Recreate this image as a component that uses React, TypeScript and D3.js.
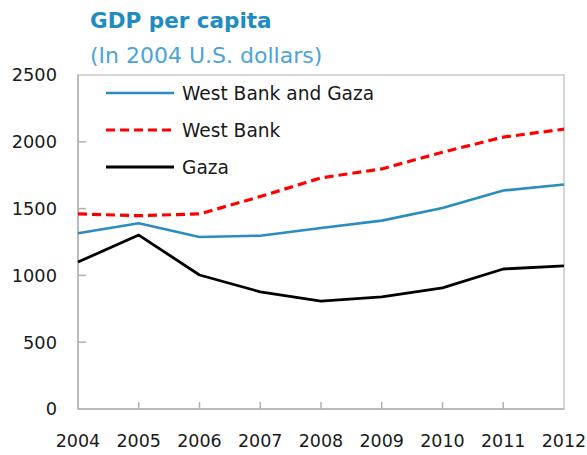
import React from "react";
import * as d3 from "d3";

const width = 587;
const height = 455;
const margin = { top: 75, right: 23, bottom: 46, left: 78 };

const years = [2004, 2005, 2006, 2007, 2008, 2009, 2010, 2011, 2012];
const yTicks = [0, 500, 1000, 1500, 2000, 2500];

const westBankAndGaza = [1315, 1390, 1287, 1297, 1355, 1410, 1505, 1635, 1680];
const westBank = [1460, 1447, 1460, 1590, 1730, 1797, 1922, 2035, 2095];
const gaza = [1100, 1302, 1003, 877, 808, 840, 907, 1048, 1072];

const seriesNames = ["West Bank and Gaza", "West Bank", "Gaza"];
const seriesColors = ["#2b8cbf", "#ff0000", "#000000"];
const seriesDash = [null, "9,5", null];
const seriesWidth = [2.6, 3.2, 2.8];

const font = "'DejaVu Sans', Verdana, sans-serif";

export default function App() {
  const x = d3
    .scaleLinear()
    .domain([years[0], years[years.length - 1]])
    .range([margin.left, width - margin.right]);
  const y = d3
    .scaleLinear()
    .domain([0, 2500])
    .range([height - margin.bottom, margin.top]);

  const line = d3
    .line<number>()
    .x((_, i) => x(years[i]))
    .y((d) => y(d));

  const series = [westBankAndGaza, westBank, gaza];
  const x0 = margin.left;
  const x1 = width - margin.right;
  const y0 = height - margin.bottom;
  const y1 = margin.top;

  return (
    <svg
      width={width}
      height={height}
      style={{ position: "absolute", left: 0, top: 0, background: "#fff" }}
      fontFamily={font}
    >
      <text x={90} y={28} fontSize={21.5} fontWeight="bold" fill="#1e8bc3">
        GDP per capita
      </text>
      <text x={90} y={63} fontSize={22} fill="#4aa4da">
        (In 2004 U.S. dollars)
      </text>

      {/* frame */}
      <rect x={x0} y={y1} width={x1 - x0} height={y0 - y1} fill="none" stroke="#c8c8c8" strokeWidth={1.5} />
      <line x1={x0} x2={x0} y1={y1} y2={y0} stroke="#b0b0b0" strokeWidth={1.5} />
      <line x1={x0} x2={x1} y1={y0} y2={y0} stroke="#b0b0b0" strokeWidth={1.5} />

      {yTicks.map((t) => (
        <g key={t}>
          {t > 0 && t < 2500 && (
            <line x1={x0} x2={x0 + 8} y1={y(t)} y2={y(t)} stroke="#b0b0b0" strokeWidth={1.5} />
          )}
          <text x={57} y={y(t)} dy="0.36em" textAnchor="end" fontSize={17.8} fill="#1a1a1a">
            {t}
          </text>
        </g>
      ))}

      {years.map((yr) => (
        <g key={yr}>
          {yr > years[0] && yr < years[years.length - 1] && (
            <line x1={x(yr)} x2={x(yr)} y1={y0} y2={y0 - 7} stroke="#b0b0b0" strokeWidth={1.5} />
          )}
          <text x={x(yr)} y={447} textAnchor="middle" fontSize={17.5} fill="#1a1a1a">
            {yr}
          </text>
        </g>
      ))}

      {series.map((s, i) => (
        <path
          key={seriesNames[i]}
          d={line(s) || ""}
          fill="none"
          stroke={seriesColors[i]}
          strokeWidth={seriesWidth[i]}
          strokeDasharray={seriesDash[i] || undefined}
          strokeLinejoin="round"
        />
      ))}

      {seriesNames.map((name, i) => {
        const ly = 93 + i * 37;
        return (
          <g key={name}>
            <line
              x1={106}
              x2={174}
              y1={ly}
              y2={ly}
              stroke={seriesColors[i]}
              strokeWidth={seriesWidth[i]}
              strokeDasharray={seriesDash[i] || undefined}
            />
            <text x={182} y={ly} dy="0.36em" fontSize={18.6} fill="#1a1a1a">
              {name}
            </text>
          </g>
        );
      })}
    </svg>
  );
}
